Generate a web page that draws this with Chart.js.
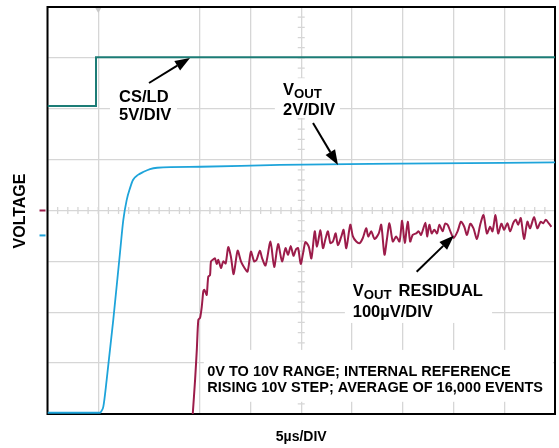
<!DOCTYPE html>
<html>
<head>
<meta charset="utf-8">
<title>Settling time, rising 10V step</title>
<script src="https://cdn.jsdelivr.net/npm/chart.js@4.4.1/dist/chart.umd.min.js"></script>
<style>
    html, body { margin: 0; padding: 0; background: #ffffff; }
    #wrap { width: 559px; height: 448px; }
</style>
</head>
<body>
<div id="wrap"><canvas id="scopeChart" width="559" height="448"></canvas></div>
<script>
// CS/LD trace, 5V/DIV (time in µs, level in V)
const csldTime = [-5, -0.22, -0.22, 45];
const csldVolts = [0, 0, 4.8, 4.8];

// VOUT trace, 2V/DIV
const voutTime = [-5, 0.17, 0.32, 0.50, 0.83, 1.48, 2.14, 2.47, 2.80, 3.13, 3.42, 3.92, 4.41, 5.10, 5.80, 10.08, 17.9, 29.7, 45];
const voutVolts = [0, 0, 0.07, 0.24, 1.29, 3.65, 6.28, 7.58, 8.36, 8.83, 9.15, 9.35, 9.46, 9.58, 9.63, 9.67, 9.74, 9.79, 9.84];

// VOUT residual, 100µV/DIV around the centre line
const residTime = [9.24, 9.31, 9.54, 9.71, 9.86, 10.03, 10.20, 10.35, 10.45, 10.59,
    10.69, 10.84, 11.01, 11.11, 11.34, 11.50, 11.67, 11.83, 12.09, 12.32,
    12.55, 12.81, 13.07, 13.34, 13.73, 14.06, 14.32, 14.71, 15.04, 15.36,
    15.60, 15.92, 16.15, 16.48, 16.97, 17.33, 17.72, 18.11, 18.45, 18.70,
    18.97, 19.23, 19.49, 19.69, 19.95, 20.18, 20.41, 20.74, 21.00, 21.33,
    21.55, 21.89, 22.14, 22.41, 22.63, 22.87, 23.12, 23.39, 23.61, 23.95,
    24.17, 24.44, 24.83, 25.09, 25.42, 25.75, 26.07, 26.40, 26.60, 26.90,
    27.22, 27.64, 27.88, 28.20, 28.43, 28.69, 29.02, 29.35, 29.68, 29.94,
    30.20, 30.49, 30.73, 30.98, 31.32, 31.57, 31.81, 32.23, 32.40, 32.62,
    32.85, 33.11, 33.38, 33.61, 33.93, 34.17, 34.42, 34.69, 35.01, 35.40,
    35.74, 36.06, 36.33, 36.65, 36.97, 37.31, 37.63, 37.96, 38.29, 38.61,
    38.84, 39.14, 39.40, 39.72, 39.99, 40.31, 40.58, 40.90, 41.14, 41.37,
    41.63, 41.95, 42.28, 42.54, 42.94, 43.26, 43.59, 43.85, 44.09, 44.41,
    44.64];
const residUv = [-420, -400, -333, -274, -215, -211, -189, -159, -156, -162,
    -166, -130, -127, -100, -96, -94, -105, -97, -113, -100,
    -104, -72, -91, -125, -79, -100, -110, -120, -81, -100,
    -97, -79, -94, -108, -61, -111, -66, -100, -74, -87,
    -70, -89, -76, -74, -105, -84, -62, -71, -94, -41,
    -71, -39, -74, -54, -41, -64, -61, -45, -68, -51,
    -38, -74, -28, -51, -61, -64, -54, -35, -51, -41,
    -56, -45, -28, -87, -58, -25, -61, -51, -61, -20,
    -64, -22, -61, -48, -45, -41, -48, -24, -51, -28,
    -45, -38, -45, -28, -41, -26, -28, -41, -54, -41,
    -22, -32, -48, -26, -35, -56, -28, -9, -45, -32,
    -41, -9, -45, -26, -38, -25, -41, -24, -18, -28,
    -15, -56, -22, -35, -13, -35, -22, -25, -18, -26,
    -32];

const teal = '#1c7c76';
const blue = '#1ea4da';
const maroon = '#9c1c4a';
const gridGray = '#d6d6d6';
const boldFont = size => 'bold ' + size + 'px "Liberation Sans", Arial, Helvetica, sans-serif';

// screen position from (time µs, division)
function pos(chart, t, d) {
    return [chart.scales.x.getPixelForValue(t), chart.scales.yDiv.getPixelForValue(d)];
}

// white patches that break the graticule behind the labels (t0, t1, d0, d1)
const labelPatches = [
    [1.16, 7.76, 5.66, 6.49],
    [17.4, 23.8, 5.82, 6.60],
    [24.3, 38.8, 1.79, 2.87],
    [10.4, 44.8, 0.24, 1.26]
];

function drawArrow(ctx, x1, y1, x2, y2) {
    const ang = Math.atan2(y2 - y1, x2 - x1);
    const len = 15, half = 5.5;
    const bx = x2 - len * Math.cos(ang), by = y2 - len * Math.sin(ang);
    ctx.strokeStyle = '#000';
    ctx.fillStyle = '#000';
    ctx.lineWidth = 2;
    ctx.beginPath();
    ctx.moveTo(x1, y1);
    ctx.lineTo(bx, by);
    ctx.stroke();
    ctx.beginPath();
    ctx.moveTo(x2, y2);
    ctx.lineTo(bx + half * Math.sin(ang), by - half * Math.cos(ang));
    ctx.lineTo(bx - half * Math.sin(ang), by + half * Math.cos(ang));
    ctx.closePath();
    ctx.fill();
}

// "V" with an OUT subscript, returns the x where it ends
function drawVout(ctx, x, y, size) {
    ctx.font = boldFont(size);
    ctx.fillText('V', x, y);
    const w = ctx.measureText('V').width;
    ctx.font = boldFont(size * 0.8);
    ctx.fillText('OUT', x + w, y + 3.3);
    return x + w + ctx.measureText('OUT').width;
}

const graticule = {
    id: 'graticule',
    beforeDatasetsDraw(chart) {
        const ctx = chart.ctx;
        const area = chart.chartArea;
        const x = chart.scales.x, yDiv = chart.scales.yDiv;
        ctx.save();

        // minor ticks on the centre cross
        ctx.strokeStyle = gridGray;
        ctx.lineWidth = 1.3;
        const yc = yDiv.getPixelForValue(4);
        const xc = x.getPixelForValue(20);
        ctx.beginPath();
        for (let t = -5; t <= 45; t += 1) {
            const px = x.getPixelForValue(t);
            ctx.moveTo(px, yc - 3.5);
            ctx.lineTo(px, yc + 3.5);
        }
        for (let d = 0; d <= 8; d += 0.2) {
            const py = yDiv.getPixelForValue(d);
            ctx.moveTo(xc - 3.5, py);
            ctx.lineTo(xc + 3.5, py);
        }
        ctx.stroke();

        ctx.fillStyle = '#ffffff';
        labelPatches.forEach(p => {
            const [ax, ay] = pos(chart, p[0], p[3]);
            const [bx, by] = pos(chart, p[1], p[2]);
            ctx.fillRect(ax, ay, bx - ax, by - ay);
        });

        // trigger marker
        const tx = x.getPixelForValue(0);
        ctx.fillStyle = '#c9c9c9';
        ctx.beginPath();
        ctx.moveTo(tx - 3.5, area.top);
        ctx.lineTo(tx + 3.5, area.top);
        ctx.lineTo(tx, area.top + 6);
        ctx.closePath();
        ctx.fill();

        // channel markers left of the frame
        ctx.lineWidth = 2;
        ctx.strokeStyle = maroon;
        ctx.beginPath();
        ctx.moveTo(area.left - 8, yc);
        ctx.lineTo(area.left - 2, yc);
        ctx.stroke();
        const ym = yDiv.getPixelForValue(3.51);
        ctx.strokeStyle = blue;
        ctx.beginPath();
        ctx.moveTo(area.left - 8, ym);
        ctx.lineTo(area.left - 2, ym);
        ctx.stroke();

        // frame
        ctx.strokeStyle = '#000';
        ctx.lineWidth = 2;
        ctx.strokeRect(area.left, area.top, area.right - area.left, area.bottom - area.top);
        ctx.restore();
    },
    afterDraw(chart) {
        const ctx = chart.ctx;
        ctx.save();
        ctx.fillStyle = '#000';
        ctx.textBaseline = 'alphabetic';
        ctx.textAlign = 'left';

        let p = pos(chart, 2.05, 6.13);
        ctx.font = boldFont(16.5);
        ctx.fillText('CS/LD', p[0], p[1]);
        p = pos(chart, 2.05, 5.78);
        ctx.fillText('5V/DIV', p[0], p[1]);

        p = pos(chart, 18.2, 6.27);
        drawVout(ctx, p[0], p[1], 16.5);
        p = pos(chart, 18.2, 5.877);
        ctx.font = boldFont(16.5);
        ctx.fillText('2V/DIV', p[0], p[1]);

        p = pos(chart, 25.07, 2.319);
        const end = drawVout(ctx, p[0], p[1], 16.5);
        ctx.font = boldFont(16.5);
        ctx.fillText('RESIDUAL', end + 7, p[1]);
        p = pos(chart, 25.07, 1.907);
        ctx.fillText('100µV/DIV', p[0], p[1]);

        ctx.font = boldFont(14.5);
        p = pos(chart, 10.74, 0.753);
        ctx.fillText('0V TO 10V RANGE; INTERNAL REFERENCE', p[0], p[1]);
        p = pos(chart, 10.74, 0.4265);
        ctx.fillText('RISING 10V STEP; AVERAGE OF 16,000 EVENTS', p[0], p[1]);

        ctx.font = boldFont(14);
        ctx.textAlign = 'center';
        p = pos(chart, 20, -0.531);
        ctx.fillText('5µs/DIV', p[0], p[1]);

        p = pos(chart, -7.61, 3.99);
        ctx.save();
        ctx.translate(p[0], p[1]);
        ctx.rotate(-Math.PI / 2);
        ctx.font = boldFont(16);
        ctx.textBaseline = 'middle';
        ctx.fillText('VOLTAGE', 0, 0);
        ctx.restore();

        let a = pos(chart, 5.0, 6.506), b = pos(chart, 9.04, 7.0);
        drawArrow(ctx, a[0], a[1], b[0], b[1]);
        a = pos(chart, 21.16, 5.72); b = pos(chart, 23.62, 4.894);
        drawArrow(ctx, a[0], a[1], b[0], b[1]);
        a = pos(chart, 31.37, 2.797); b = pos(chart, 35.05, 3.51);
        drawArrow(ctx, a[0], a[1], b[0], b[1]);
        ctx.restore();
    }
};

const hiddenAxis = (min, max) => ({ type: 'linear', display: false, min: min, max: max });

new Chart(document.getElementById('scopeChart'), {
    type: 'line',
    data: {
        datasets: [
            {
                label: 'CS/LD',
                data: csldTime.map((t, i) => ({ x: t, y: csldVolts[i] })),
                yAxisID: 'yCsld',
                borderColor: teal,
                borderWidth: 2
            },
            {
                label: 'VOUT',
                data: voutTime.map((t, i) => ({ x: t, y: voutVolts[i] })),
                yAxisID: 'yVout',
                borderColor: blue,
                borderWidth: 1.8,
                cubicInterpolationMode: 'monotone'
            },
            {
                label: 'VOUT residual',
                data: residTime.map((t, i) => ({ x: t, y: residUv[i] })),
                yAxisID: 'yResid',
                borderColor: maroon,
                borderWidth: 2,
                tension: 0.25
            }
        ]
    },
    options: {
        responsive: false,
        animation: false,
        devicePixelRatio: 1,
        layout: { padding: { left: 47.5, top: 7, right: 4, bottom: 34 } },
        elements: { point: { radius: 0 } },
        plugins: { legend: { display: false }, tooltip: { enabled: false } },
        scales: {
            x: {
                type: 'linear', min: -5, max: 45,
                ticks: { display: false, stepSize: 5 },
                grid: {
                    color: ctx => (ctx.tick && ctx.tick.value === 5) ? 'rgba(0,0,0,0)' : gridGray,
                    lineWidth: 1.3, drawTicks: false
                },
                border: { display: false }
            },
            yDiv: {
                type: 'linear', position: 'left', min: 0, max: 8,
                ticks: { display: false, stepSize: 1 },
                grid: { color: gridGray, lineWidth: 1.3, drawTicks: false },
                border: { display: false }
            },
            yCsld: hiddenAxis(-30.27, 9.73),
            yVout: hiddenAxis(-0.05, 15.95),
            yResid: hiddenAxis(-400, 400)
        }
    },
    plugins: [graticule]
});
</script>
</body>
</html>
